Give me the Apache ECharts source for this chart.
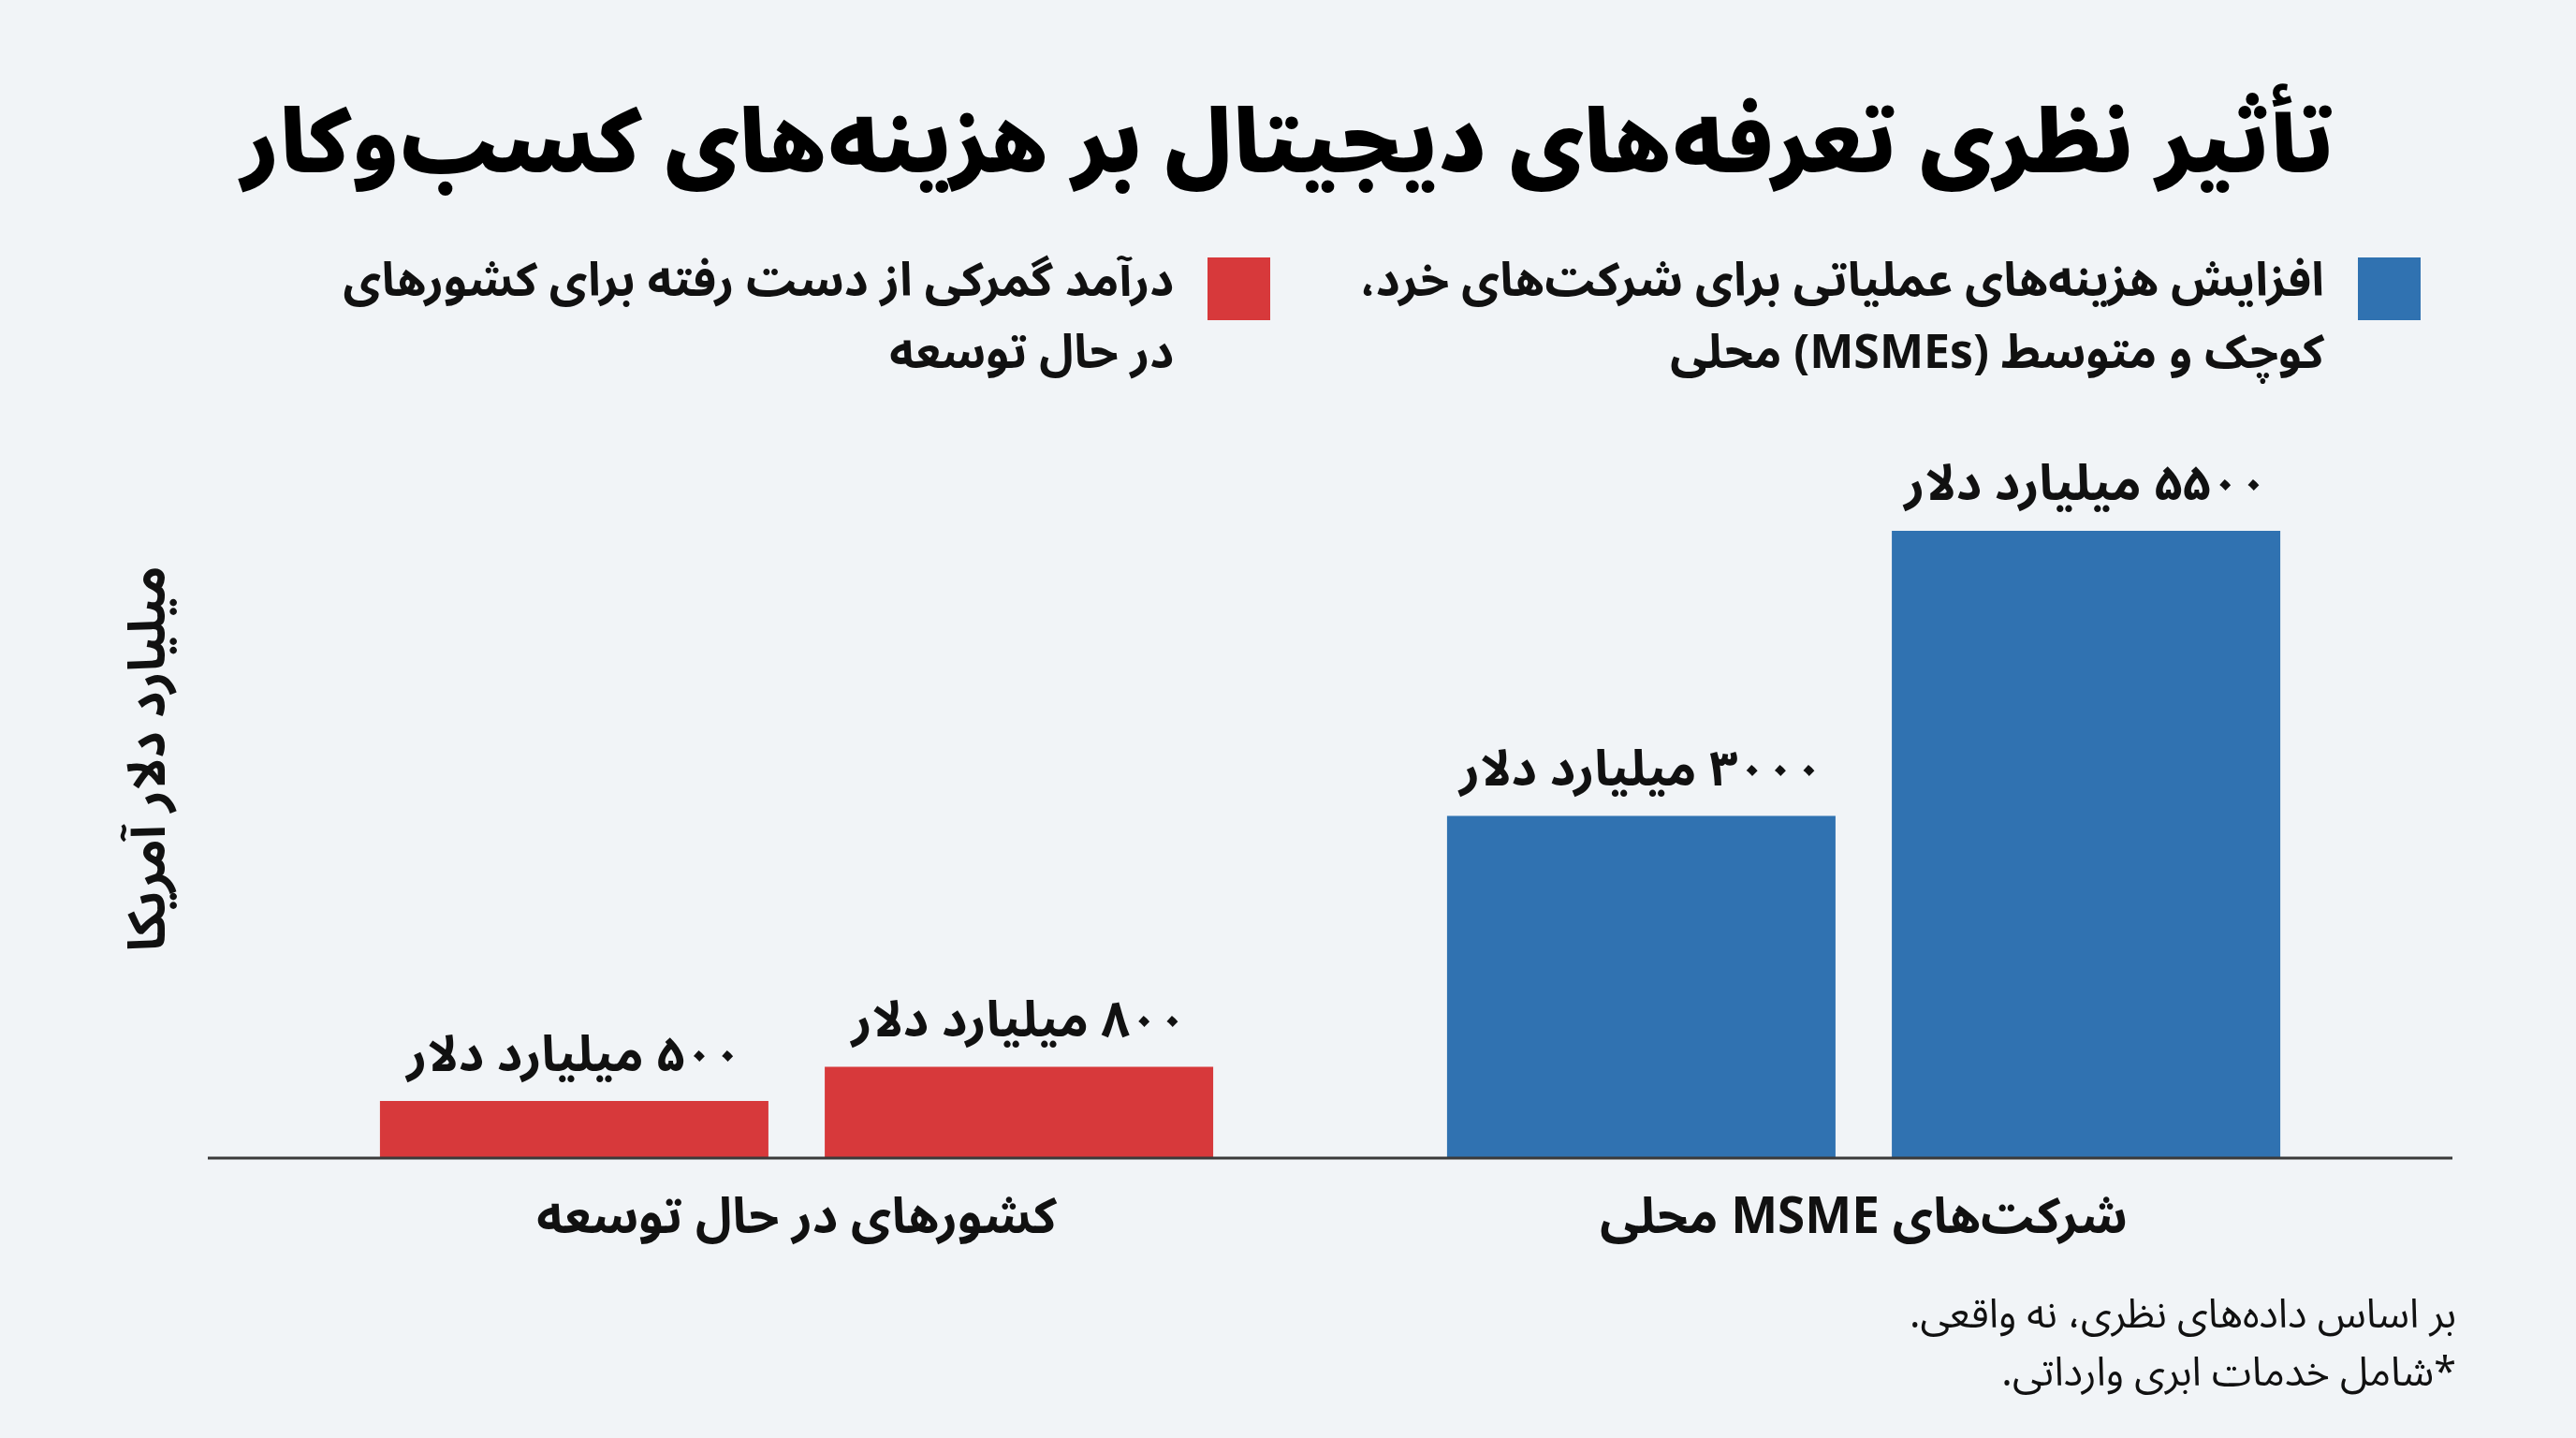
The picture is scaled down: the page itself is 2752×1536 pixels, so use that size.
<!DOCTYPE html>
<html lang="fa">
<head>
<meta charset="utf-8">
<script src="https://cdn.jsdelivr.net/npm/echarts@6/dist/echarts.min.js"></script>
<style>
  html, body { margin: 0; padding: 0; background: #F1F4F7; }
  #chart { width: 2752px; height: 1536px; }
</style>
</head>
<body>
<div id="chart" dir="rtl"></div>
<script>
// ---- data ----
const titleText = 'تأثیر نظری تعرفه‌های دیجیتال بر هزینه‌های کسب‌وکار';
const categories = ['کشورهای در حال توسعه', 'شرکت‌های MSME محلی'];
const redName = 'درآمد گمرکی از دست رفته برای کشورهای در حال توسعه';
const blueName = 'افزایش هزینه‌های عملیاتی برای شرکت‌های خرد، کوچک و متوسط (MSMEs) محلی';
const redLegendLines = ['درآمد گمرکی از دست رفته برای کشورهای', 'در حال توسعه'];
const blueLegendLines = ['افزایش هزینه‌های عملیاتی برای شرکت‌های خرد،', 'کوچک و متوسط (MSMEs) محلی'];
const developingValues = [500, 800];   // red bars, category 0
const msmeValues = [3000, 5500];       // blue bars, category 1
const yAxisName = 'میلیارد دلار آمریکا';
const unitText = 'میلیارد دلار';
const footnoteLines = ['بر اساس داده‌های نظری، نه واقعی.', '*شامل خدمات ابری وارداتی.'];

const RED = '#D7393B';
const BLUE = '#3072B1';
const FONT = "'Noto Sans Arabic','Vazirmatn','Noto Naskh Arabic','DejaVu Sans',sans-serif";

const toFa = n => String(n).replace(/\d/g, d => '۰۱۲۳۴۵۶۷۸۹'[d]);

const chart = echarts.init(document.getElementById('chart'), null, { renderer: 'canvas' });

const labelCfg = {
  show: true,
  position: 'top',
  distance: 14,
  formatter: p => toFa(p.value) + ' ' + unitText,
  fontFamily: FONT,
  fontSize: 53,
  fontWeight: 'bold',
  color: '#111'
};

function barSeries(name, data, stack, color) {
  return {
    name, type: 'bar', stack, data,
    barWidth: 415,
    barGap: '14.5%',
    itemStyle: { color },
    label: labelCfg,
    emphasis: { disabled: true }
  };
}

const legendCommon = {
  orient: 'horizontal',
  align: 'right',
  icon: 'rect',
  itemWidth: 67,
  itemHeight: 67,
  padding: 0,
  selectedMode: false,
  textStyle: {
    fontFamily: FONT, fontSize: 50, fontWeight: 'bold', color: '#111',
    lineHeight: 77, padding: [0, 31, 0, 0]
  }
};

const option = {
  backgroundColor: '#F1F4F7',
  animation: false,
  title: [{
    text: titleText,
    left: 'center',
    top: 118,
    textStyle: { fontFamily: FONT, fontSize: 93, fontWeight: 900, color: '#000' }
  }, {
    text: footnoteLines.join('\n'),
    left: 2619,
    top: 1376,
    textAlign: 'right',
    textStyle: { fontFamily: FONT, fontSize: 43, fontWeight: 'normal', color: '#111', lineHeight: 62 }
  }],
  legend: [
    Object.assign({}, legendCommon, {
      data: [blueName], right: 166, top: 193,
      formatter: () => '\n' + blueLegendLines.join('\n')
    }),
    Object.assign({}, legendCommon, {
      data: [redName], right: 1395, top: 193,
      formatter: () => '\n' + redLegendLines.join('\n')
    })
  ],
  grid: { left: 281, right: 191, top: 506, bottom: 299, containLabel: false },
  xAxis: {
    type: 'category',
    data: categories,
    axisLine: { show: false },
    axisTick: { show: false },
    axisLabel: {
      margin: 46,
      fontFamily: FONT, fontSize: 53, fontWeight: 'bold', color: '#111'
    }
  },
  yAxis: {
    type: 'value',
    min: 0,
    max: 6000,
    axisLine: { show: false },
    axisTick: { show: false },
    axisLabel: { show: false },
    splitLine: { show: false },
    name: yAxisName,
    nameLocation: 'middle',
    nameRotate: 90,
    nameGap: 86,
    nameTextStyle: {
      fontFamily: FONT, fontSize: 55, fontWeight: 'bold', color: '#111',
      padding: [0, 0, 0, 122]
    }
  },
  series: [
    barSeries(redName, [developingValues[0], '-'], 'first', RED),
    barSeries(blueName, ['-', msmeValues[0]], 'first', BLUE),
    barSeries(redName, [developingValues[1], '-'], 'second', RED),
    barSeries(blueName, ['-', msmeValues[1]], 'second', BLUE)
  ]
};

chart.setOption(option);

// baseline rule spanning the full plot width
const baseY = chart.convertToPixel({ yAxisIndex: 0 }, 0);
chart.setOption({
  graphic: [{
    type: 'line',
    shape: { x1: 222, y1: baseY, x2: 2620, y2: baseY },
    style: { stroke: '#3A3A3A', lineWidth: 3 },
    z: 10
  }]
});
</script>
</body>
</html>
